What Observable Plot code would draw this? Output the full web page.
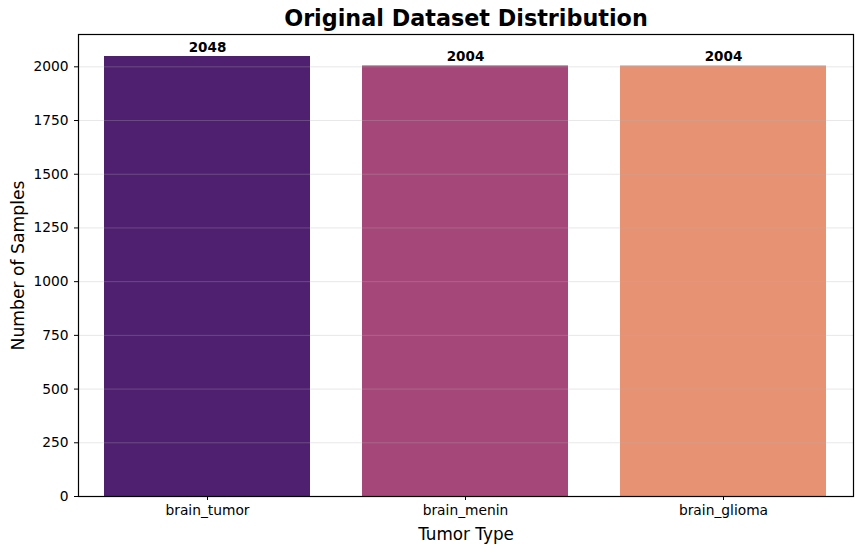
<!DOCTYPE html>
<html><head><meta charset="utf-8">
<script src="https://cdn.jsdelivr.net/npm/d3@7"></script>
<script src="https://cdn.jsdelivr.net/npm/@observablehq/plot@0.6"></script>
<style>body{margin:0;background:#fff}</style>
</head><body><div id="chart"></div>
<script>
const categories = ["brain_tumor", "brain_menin", "brain_glioma"];
const counts = [2048, 2004, 2004];
const colors = ["#4f206f", "#a6477a", "#e89274"];
const yTicks = [0, 250, 500, 750, 1000, 1250, 1500, 1750, 2000];
const title = "Original Dataset Distribution";

const data = categories.map((c, i) => ({category: c, count: counts[i]}));
const font = "DejaVu Sans, sans-serif";

const chart = Plot.plot({
  width: 863, height: 553,
  marginLeft: 78, marginRight: 10, marginTop: 34, marginBottom: 57,
  style: {fontFamily: font, fontSize: "13.8px", color: "#000", background: "#fff"},
  x: {domain: categories, paddingInner: 0.2, paddingOuter: 0.1, label: null},
  y: {domain: [0, 2048 * 1.05], label: null},
  color: {domain: categories, range: colors},
  marks: [
    Plot.barY(data, {x: "category", y: "count", fill: "category"}),
    Plot.gridY(yTicks, {stroke: "#b0b0b0", strokeOpacity: 0.3, strokeWidth: 1}),
    Plot.text(data, {x: "category", y: "count", text: d => String(d.count), dy: -9, lineAnchor: "middle", fontWeight: "bold", fontSize: 13.5, fill: "#000"}),
    Plot.axisX({tickSize: 4, tickPadding: 5, fontSize: 13.8, label: null}),
    Plot.axisY({ticks: yTicks, tickSize: 4, tickPadding: 6, fontSize: 13.8, label: null, tickFormat: d => String(d)}),
    Plot.frame({stroke: "#000", strokeWidth: 1.2}),
    Plot.text([title], {frameAnchor: "top", dy: -16, lineAnchor: "middle", fontSize: 22.3, fontWeight: "bold", fill: "#000"}),
    Plot.text(["Tumor Type"], {frameAnchor: "bottom", dy: 38, lineAnchor: "middle", textAnchor: "middle", fontSize: 16.8, fill: "#000"}),
    Plot.text(["Number of Samples"], {frameAnchor: "left", dx: -60, lineAnchor: "middle", textAnchor: "middle", rotate: -90, fontSize: 17.2, fill: "#000"})
  ]
});
document.getElementById("chart").appendChild(chart);
</script>
</body></html>
